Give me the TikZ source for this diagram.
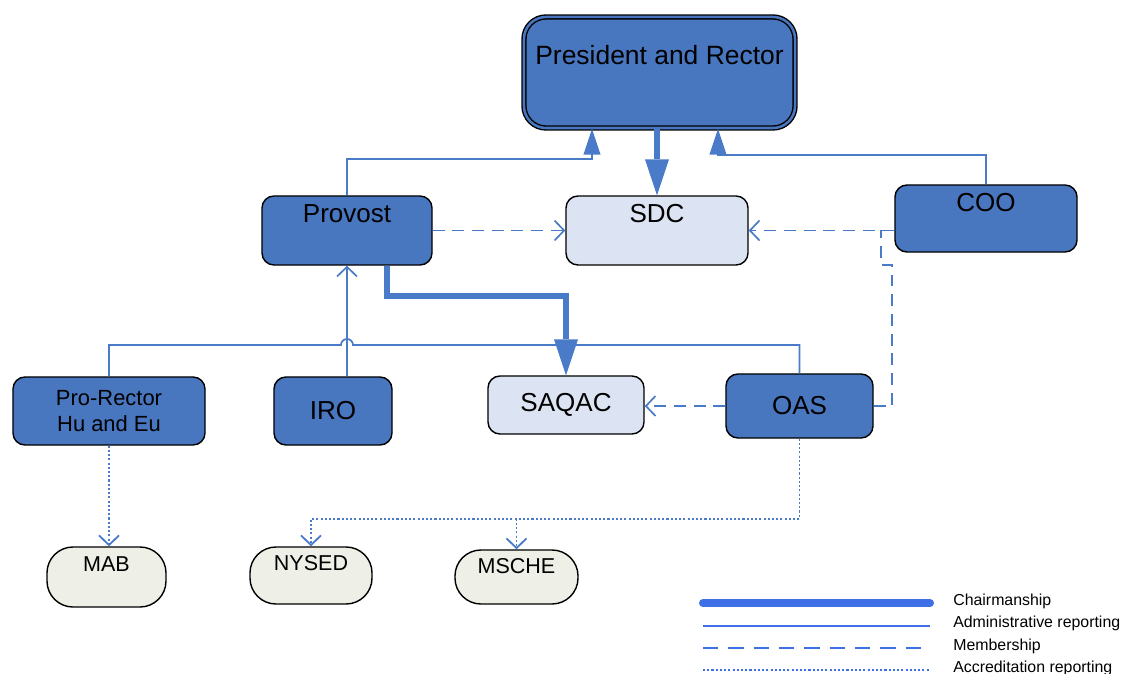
\documentclass[tikz,border=0pt]{standalone}
\usepackage{fontspec}
\setmainfont{Liberation Sans}
\usetikzlibrary{arrows.meta,calc}
\definecolor{unitblue}{HTML}{4876BF}
\definecolor{ctteefill}{HTML}{DCE3F2}
\definecolor{bodyfill}{HTML}{EEEFE6}
\definecolor{linkblue}{HTML}{4A7BC8}
\definecolor{legblue}{HTML}{3F6FE6}

\begin{document}
\begin{tikzpicture}[x=0.025cm, y=-0.025cm,
    unit/.style={draw=black, line width=1pt, fill=unitblue, rounded corners=0.3cm, inner sep=0pt, font=\fontsize{18.5}{22}\selectfont},
    cttee/.style={unit, fill=ctteefill},
    body/.style={draw=black, line width=1pt, fill=bodyfill, rounded corners=0.65cm, inner sep=0pt, font=\fontsize{15.3}{18}\selectfont},
    admin/.style={draw=linkblue, line width=1.2pt},
    chair/.style={draw=linkblue, line width=4.3pt},
    memb/.style={draw=linkblue, line width=1.2pt, dash pattern=on 8.5pt off 5.5pt},
    accr/.style={draw=linkblue, line width=1.3pt, dash pattern=on 1.5pt off 1.5pt},
    open tip/.style={-{Straight Barb[length=0.24cm, width=0.5cm]}},
    small tip/.style={-{Triangle[length=0.65cm, width=0.42cm]}},
    big tip/.style={-{Triangle[length=0.9cm, width=0.6cm, line width=0pt]}},
    legtext/.style={anchor=west, inner sep=0pt, font=\fontsize{11.3}{13.5}\selectfont}]
    \useasboundingbox (0,0) rectangle (1122,674);

    % units and committees
    \node[unit, double=unitblue, double distance=1.8pt, rounded corners=0.55cm, minimum width=6.775cm, text height=1.2cm, text depth=1.575cm, font=\fontsize{18.8}{22}\selectfont] (pres) at (659.5,72.5) {President and Rector};
    \node[unit, minimum width=4.25cm, text height=0.675cm, text depth=1.05cm] (provost) at (347,230.5) {Provost};
    \node[cttee, minimum width=4.55cm, text height=0.675cm, text depth=1.05cm] (sdc) at (657,230.5) {SDC};
    \node[unit, minimum width=4.55cm, text height=0.675cm, text depth=1.0cm] (coo) at (986,218.5) {COO};
    \node[unit, minimum width=4.8cm, minimum height=1.7cm, align=center, font=\fontsize{15.6}{18.5}\selectfont] (prorector) at (109,411) {Pro-Rector\\Hu and Eu};
    \node[unit, minimum width=2.95cm, minimum height=1.7cm] (iro) at (333,411) {IRO};
    \node[cttee, minimum width=3.9cm, minimum height=1.45cm] (saqac) at (566,405) {SAQAC};
    \node[unit, minimum width=3.675cm, minimum height=1.6cm] (oas) at (799.5,406) {OAS};

    % outside bodies
    \node[body, minimum width=2.975cm, text height=0.6cm, text depth=0.9cm] (mab) at (106.5,577) {MAB};
    \node[body, minimum width=3.05cm, text height=0.575cm, text depth=0.85cm] (nysed) at (311,575.5) {NYSED};
    \node[body, minimum width=3.075cm, text height=0.575cm, text depth=0.775cm] (msche) at (516.5,577) {MSCHE};

    % administrative reporting
    \draw[admin, small tip] (provost.north) -- ++(0,-36) -| ($(pres.south)+(-67.5,0)$);
    \draw[admin, small tip] (coo.north) -- ++(0,-29) -| ($(pres.south)+(58.5,0)$);
    \draw[admin] (prorector.north) |- (341,345) arc[start angle=180, end angle=0, radius=0.15cm] -| (oas.north);
    \draw[admin, open tip] (iro.north -| provost.south) -- (provost.south);

    % chairmanship
    \draw[chair, big tip] (pres.south -| sdc.north) -- (sdc.north);
    \draw[chair, big tip] ($(provost.south)+(40,0)$) -- ++(0,30) -| (saqac.north);

    % membership
    \coordinate (join) at ($(coo.west |- sdc.east)+(-13,0)$);
    \draw[memb, open tip] (provost.east) -- (sdc.west);
    \draw[memb, open tip] (coo.west |- sdc.east) -- (sdc.east);
    \draw[memb] (oas.east) -| (892,265) -| (join);
    \draw[memb, open tip] (oas.west) -- (oas.west -| saqac.east);

    % accreditation reporting
    \coordinate (acc) at ($(oas.south)+(0,80)$);
    \draw[accr, open tip] (prorector.south) -- (prorector.south |- mab.north);
    \draw[accr, open tip] (oas.south) -- (acc) -| (nysed.north);
    \draw[accr, open tip] (acc -| msche.north) -- (msche.north);

    % legend
    \node[legtext] (lchair) at (953,601) {Chairmanship};
    \node[legtext] (ladmin) at (953,623.5) {Administrative reporting};
    \node[legtext] (lmemb) at (953,646) {Membership};
    \node[legtext] (laccr) at (953,668.5) {Accreditation reporting};
    \draw[legblue, line width=5.7pt, line cap=round] (703,603) -- (930,603);
    \draw[legblue, line width=1.2pt] (703,626) -- (930,626);
    \draw[legblue, line width=1.2pt, dash pattern=on 11pt off 7pt] (703,648) -- (930,648);
    \draw[legblue, line width=1.3pt, dash pattern=on 1.5pt off 1.5pt] (703,670) -- (930,670);
\end{tikzpicture}
\end{document}
